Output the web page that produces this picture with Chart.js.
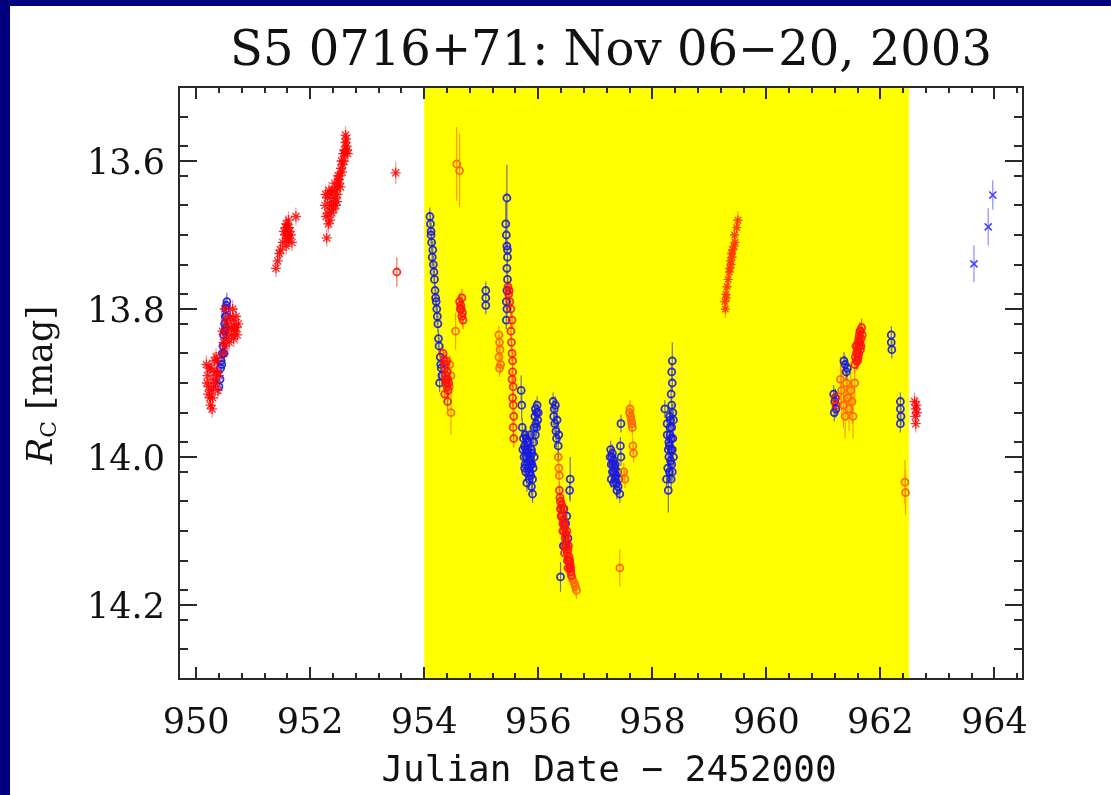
<!DOCTYPE html>
<html>
<head>
<meta charset="utf-8">
<script src="https://cdn.jsdelivr.net/npm/chart.js@4.4.1/dist/chart.umd.min.js"></script>
<style>
  html, body { margin: 0; padding: 0; background: #fff; }
  canvas { display: block; }
</style>
</head>
<body>
<canvas id="lc" width="1111" height="795"></canvas>
<script>
// 観測データ [JD-2452000, Rc, 誤差(省略時は既定値)]
const titleText = "S5 0716+71: Nov 06\u221220, 2003";
const xTitle = "Julian Date \u2212 2452000";
const xMajorTicks = [950, 952, 954, 956, 958, 960, 962, 964];
const yMajorTicks = [13.6, 13.8, 14.0, 14.2];
const bandRange = [954, 962.5];

const blueCircles = [
  [950.40,13.905],[950.42,13.895],[950.43,13.88],[950.44,13.87],[950.46,13.86],[950.47,13.85],
  [950.48,13.835],[950.50,13.82],[950.51,13.81],[950.52,13.80],[950.53,13.795],[950.54,13.79],
  [950.52,13.825],[950.49,13.86],[950.45,13.875],[950.50,13.83],[950.53,13.81],
  [954.10,13.675],[954.11,13.685],[954.12,13.695],[954.13,13.71],[954.14,13.73],[954.16,13.74],
  [954.18,13.76],[954.19,13.775],[954.22,13.80],[954.24,13.82],[954.25,13.84],[954.26,13.85],
  [954.28,13.865],[954.30,13.88],[954.31,13.89],[954.27,13.90],[954.15,13.72],[954.21,13.79],
  [954.12,13.70],[954.17,13.75],[954.20,13.785],[954.23,13.81],[954.29,13.875],
  [955.08,13.775],[955.08,13.785],[955.08,13.795],
  [955.45,13.65,0.045],[955.43,13.685,0.03],[955.44,13.70],[955.45,13.715],[955.46,13.73],[955.45,13.745],
  [955.46,13.76],[955.45,13.775],[955.44,13.79],[955.45,13.80],[955.44,13.815],[955.46,13.72],
  [955.70,13.91,0.02],[955.71,13.93,0.02],
  [955.72,13.96],[955.74,13.975],[955.76,13.985],[955.77,13.97],[955.78,13.99],[955.79,14.00],
  [955.80,13.98],[955.81,14.01],[955.82,13.995],[955.83,14.015],[955.84,14.005],[955.85,14.02],
  [955.86,14.00],[955.87,14.025],[955.88,13.99],[955.89,14.01],[955.90,14.03],[955.90,14.05],
  [955.92,13.98],[955.93,13.96],[955.94,13.945],[955.95,13.935],[955.96,13.955],[955.97,13.94],
  [955.78,14.02],[955.80,14.035],
  [955.73,13.99],[955.75,14.00],[955.77,14.01],[955.79,13.975],[955.81,13.99],[955.83,13.98],
  [955.85,14.005],[955.87,14.01],[955.89,13.995],[955.91,14.015],[955.93,14.00],[955.95,13.97],
  [955.97,13.96],[955.99,13.95],[956.00,13.94],[955.98,13.93],[955.76,14.015],[955.84,14.03],
  [955.86,13.97],[955.88,14.04],
  [956.26,13.925],[956.28,13.935],[956.27,13.945],[956.29,13.955],[956.30,13.93],[956.31,13.965],
  [956.32,13.975],[956.33,13.95],[956.35,13.985,0.02],[956.36,13.97],
  [956.39,14.162,0.02],[956.56,14.03,0.03],[956.55,14.045],[956.45,14.07],[956.48,14.09],
  [956.52,14.11],[956.44,14.12],[956.50,14.08],
  [957.27,13.99],[957.29,14.00],[957.30,13.995],[957.31,14.01],[957.32,14.005],[957.33,14.02],
  [957.34,14.015],[957.35,14.03],[957.36,14.025],[957.37,14.035],[957.38,14.045],[957.40,14.04],
  [957.43,14.05],[957.45,13.955],[957.44,13.985],[957.45,14.00],[957.30,14.02],[957.28,14.01],
  [957.26,14.00],[957.28,14.03],[957.32,14.035],[957.35,14.01],[957.39,14.02],[957.41,14.03],
  [958.35,13.87,0.025],[958.34,13.885],[958.35,13.90],[958.33,13.915],[958.34,13.93],[958.22,13.935],
  [958.30,13.945],[958.32,13.95],[958.34,13.96],[958.31,13.97],[958.33,13.975],[958.30,13.985],
  [958.35,13.99],[958.29,14.00],[958.32,14.005],[958.34,14.01],[958.30,14.02],[958.33,14.03],
  [958.28,14.045,0.03],[958.31,13.96],[958.36,13.94],[958.29,13.98],[958.27,14.015],[958.33,13.99],
  [958.26,13.97],[958.28,13.99],[958.36,13.975],[958.37,14.00],[958.26,13.955],[958.37,13.95],
  [958.25,14.03],[958.35,14.02],
  [961.18,13.915],[961.20,13.925],[961.22,13.935],[961.19,13.94],[961.21,13.92],
  [961.36,13.87],[961.38,13.875],[961.40,13.885],[961.42,13.88],
  [962.19,13.835],[962.19,13.845],[962.20,13.855],
  [962.35,13.925],[962.35,13.935],[962.36,13.945],[962.35,13.955]
];

const redCircles = [
  [953.52,13.75,0.02],
  [954.33,13.86],[954.35,13.87],[954.36,13.88],[954.37,13.875],[954.38,13.89],[954.39,13.895],
  [954.40,13.885],[954.38,13.90],[954.40,13.905],[954.42,13.91],[954.36,13.915],[954.41,13.925],
  [954.37,13.895],[954.39,13.87],[954.41,13.895],[954.43,13.90],
  [954.62,13.79],[954.64,13.795],[954.65,13.80],[954.66,13.81],[954.67,13.805],[954.68,13.815],
  [954.63,13.80],[954.66,13.785],
  [955.47,13.77],[955.48,13.78],[955.49,13.775],[955.50,13.79],[955.52,13.80],[955.54,13.815],
  [955.52,13.83],[955.53,13.845],[955.54,13.86],[955.55,13.87],[955.55,13.885],[955.54,13.895],
  [955.56,13.905],[955.55,13.92],[955.56,13.93],[955.57,13.945],[955.56,13.96],[955.57,13.975],
  [956.37,14.045],[956.38,14.055],[956.39,14.06],[956.40,14.07],[956.41,14.065],[956.42,14.08],
  [956.43,14.09],[956.44,14.085],[956.45,14.10],[956.46,14.095],[956.47,14.11],[956.48,14.105],
  [956.49,14.12],[956.50,14.115],[956.51,14.13],[956.52,14.125],[956.53,14.14],[956.54,14.135],
  [956.55,14.15],[956.56,14.145],[956.57,14.155],[956.58,14.16],[956.40,14.08],[956.44,14.07],
  [956.50,14.10],
  [956.39,14.07],[956.41,14.08],[956.43,14.10],[956.45,14.09],[956.47,14.12],[956.49,14.105],
  [956.51,14.14],[956.53,14.12],[956.55,14.14],[956.57,14.15],[956.46,14.13],[956.52,14.15],
  [961.55,13.875],[961.56,13.865],[961.58,13.86],[961.59,13.85],[961.60,13.855],[961.61,13.845],
  [961.62,13.84],[961.63,13.835],[961.64,13.845],[961.65,13.83],[961.66,13.84],[961.67,13.825],
  [961.62,13.86],[961.65,13.855],[961.60,13.87],[961.68,13.835],
  [961.57,13.85],[961.61,13.865],[961.63,13.85],[961.64,13.83],[961.66,13.85],[961.58,13.87],
  [961.21,13.92],[961.22,13.93]
];

const orangeCircles = [
  [954.57,13.604,0.05],[954.62,13.613,0.05],
  [954.55,13.83,0.025],[954.47,13.94,0.03],[954.45,13.875],[954.47,13.89],[954.44,13.905],
  [955.31,13.835],[955.32,13.845],[955.33,13.855],[955.31,13.865],[955.34,13.875],[955.32,13.88],
  [956.35,14.00],[956.36,14.015],[956.37,14.025],
  [956.60,14.165],[956.63,14.17],[956.65,14.175],[956.67,14.18],
  [957.50,14.02],[957.52,14.03],
  [957.60,13.94],[957.62,13.945],[957.63,13.95],[957.64,13.955],[957.65,13.96],[957.66,13.985],
  [957.67,13.995],[957.61,13.935],
  [957.43,14.15,0.025],
  [961.30,13.895,0.03],[961.32,13.91,0.03],[961.35,13.93,0.03],[961.38,13.945,0.03],[961.42,13.92,0.03],
  [961.45,13.935,0.03],[961.48,13.91,0.03],[961.50,13.925,0.03],[961.52,13.945,0.03],[961.55,13.90,0.03],
  [961.40,13.90,0.03],
  [962.43,14.034,0.03],[962.44,14.048,0.03]
];

const redStars = [
  [950.18,13.875],[950.20,13.89],[950.22,13.905],[950.24,13.92],[950.25,13.93],[950.27,13.91],
  [950.28,13.935],[950.30,13.895],[950.26,13.88],[950.32,13.87],[950.34,13.90],[950.36,13.885],
  [950.38,13.91],[950.40,13.89],[950.35,13.865],
  [950.19,13.90],[950.21,13.915],[950.23,13.88],[950.29,13.92],[950.31,13.905],[950.33,13.885],
  [950.37,13.87],
  [950.46,13.83],[950.48,13.845],[950.50,13.80],[950.52,13.815],[950.50,13.85],[950.54,13.84],
  [950.56,13.83],[950.48,13.86],[950.60,13.81],[950.62,13.825],[950.65,13.815],[950.68,13.83],
  [950.70,13.81],[950.72,13.835],[950.66,13.84],[950.58,13.845],[950.64,13.80],
  [950.62,13.835],[950.67,13.825],[950.70,13.825],[950.74,13.82],[950.55,13.82],
  [951.40,13.745],[951.43,13.735],[951.46,13.725],[951.48,13.72],[951.52,13.71],[951.54,13.695],
  [951.56,13.70],[951.58,13.685],[951.60,13.69],[951.62,13.705],[951.64,13.695],[951.66,13.70],
  [951.68,13.71],[951.58,13.715],[951.62,13.68],[951.75,13.675],
  [951.57,13.69],[951.61,13.70],[951.63,13.69],[951.59,13.705],
  [952.29,13.704],[952.26,13.66],[952.28,13.675],[952.30,13.65],[952.32,13.685],[952.34,13.66],
  [952.36,13.645],[952.38,13.67],[952.40,13.655],[952.42,13.64],[952.44,13.65],[952.46,13.635],
  [952.48,13.645],[952.50,13.625],[952.52,13.62],[952.54,13.61],[952.55,13.60],[952.57,13.605],
  [952.58,13.59],[952.60,13.585],[952.62,13.575],[952.64,13.58],[952.62,13.565],[952.66,13.59],
  [952.35,13.68],[952.45,13.66],[952.53,13.635],
  [952.27,13.645],[952.31,13.67],[952.33,13.64],[952.37,13.66],[952.39,13.64],[952.41,13.665],
  [952.43,13.63],[952.47,13.655],[952.49,13.62],[952.51,13.63],[952.56,13.615],[952.59,13.60],
  [952.61,13.59],[952.63,13.57],[952.65,13.585],
  [953.50,13.616,0.015],
  [962.60,13.925],[962.62,13.935],[962.63,13.93],[962.61,13.945],[962.64,13.94],[962.62,13.955]
];

const orangeCrosses = [
  [959.28,13.80],[959.27,13.79],[959.29,13.78],[959.30,13.785],[959.31,13.77],[959.33,13.76],
  [959.35,13.75],[959.36,13.745],[959.37,13.735],[959.38,13.74],[959.39,13.725],[959.40,13.73],
  [959.41,13.72],[959.43,13.715],[959.44,13.70],[959.48,13.69],[959.50,13.68],[959.45,13.71]
];

const blueCrosses = [
  [963.64,13.739,0.025],[963.89,13.689,0.025],[963.97,13.646,0.02]
];

const DEF_ERR = 0.012;
const toPts = arr => arr.map(p => ({ x: p[0], y: p[1], e: p[2] ?? DEF_ERR }));

// 副目盛り
const xMinorTicks = [];
xMajorTicks.forEach(m => [0.4, 0.8, 1.2, 1.6].forEach(d => {
  const v = Math.round((m + d) * 10) / 10;
  if (v < 964.5) xMinorTicks.push(v);
}));
const yMinorTicks = [];
for (let i = 1; i < 20; i++) yMinorTicks.push(Math.round((13.5 + i * 0.04) * 100) / 100);

// 背景・帯・枠・タイトル
const frame = {
  id: "frame",
  beforeDraw(chart) {
    const { ctx, width, height, chartArea: a, scales: { x } } = chart;
    ctx.save();
    ctx.fillStyle = "#000080";
    ctx.fillRect(0, 0, width, height);
    ctx.fillStyle = "#ffffff";
    ctx.fillRect(10, 6, width - 10, height - 6);
    const x0 = x.getPixelForValue(bandRange[0]);
    const x1 = x.getPixelForValue(bandRange[1]);
    ctx.fillStyle = "#ffff00";
    ctx.fillRect(x0, a.top, x1 - x0, a.bottom - a.top);
    ctx.restore();
  },
  afterDraw(chart) {
    const { ctx, chartArea: a, scales: { x, y } } = chart;
    ctx.save();
    ctx.strokeStyle = "#2a2a2a";
    ctx.lineWidth = 2;
    ctx.beginPath();
    const xt = (vals, len) => vals.forEach(v => {
      const px = Math.round(x.getPixelForValue(v));
      ctx.moveTo(px, a.bottom); ctx.lineTo(px, a.bottom - len);
      ctx.moveTo(px, a.top); ctx.lineTo(px, a.top + len);
    });
    const yt = (vals, len) => vals.forEach(v => {
      const py = Math.round(y.getPixelForValue(v));
      ctx.moveTo(a.left, py); ctx.lineTo(a.left + len, py);
      ctx.moveTo(a.right, py); ctx.lineTo(a.right - len, py);
    });
    xt(xMajorTicks, 12);
    xt(xMinorTicks, 6);
    yt(yMajorTicks, 18);
    yt(yMinorTicks, 9);
    ctx.stroke();
    ctx.strokeRect(a.left, a.top, a.right - a.left, a.bottom - a.top);

    ctx.fillStyle = "#111";
    ctx.textAlign = "center";
    ctx.textBaseline = "alphabetic";
    ctx.font = '48px "DejaVu Serif"';
    ctx.fillText(titleText, 611, 65);
    ctx.font = '36px "DejaVu Sans Mono"';
    ctx.fillText(xTitle, 609, 781);

    // 縦軸タイトル R_C [mag]
    ctx.translate(52, 385);
    ctx.rotate(-Math.PI / 2);
    ctx.textAlign = "left";
    const fR = 'italic 35px "DejaVu Serif"', fC = '22px "DejaVu Serif"', fM = '35px "DejaVu Serif"';
    ctx.font = fR; const wR = ctx.measureText("R").width;
    ctx.font = fC; const wC = ctx.measureText("C").width;
    ctx.font = fM; const wM = ctx.measureText(" [mag]").width;
    let cx = -(wR + wC + wM) / 2;
    ctx.font = fR; ctx.fillText("R", cx, 0); cx += wR;
    ctx.font = fC; ctx.fillText("C", cx, 4); cx += wC;
    ctx.font = fM; ctx.fillText(" [mag]", cx, 0);
    ctx.restore();
  }
};

// 誤差棒
const errorBars = {
  id: "errorBars",
  beforeDatasetsDraw(chart) {
    const { ctx, chartArea: a, scales: { x, y } } = chart;
    ctx.save();
    ctx.beginPath();
    ctx.rect(a.left, a.top, a.right - a.left, a.bottom - a.top);
    ctx.clip();
    ctx.lineWidth = 1.2;
    chart.data.datasets.forEach(ds => {
      ctx.strokeStyle = ds.errColor;
      ctx.beginPath();
      ds.data.forEach(p => {
        const px = x.getPixelForValue(p.x);
        ctx.moveTo(px, y.getPixelForValue(p.y - p.e));
        ctx.lineTo(px, y.getPixelForValue(p.y + p.e));
      });
      ctx.stroke();
    });
    ctx.restore();
  }
};

const tickFont = { family: "DejaVu Serif", size: 35 };

new Chart(document.getElementById("lc"), {
  type: "scatter",
  data: {
    datasets: [
      { data: toPts(redCircles), pointStyle: "circle", pointRadius: 3.5, borderWidth: 1.8,
        borderColor: "rgba(255,20,10,0.9)", backgroundColor: "rgba(0,0,0,0)", errColor: "rgba(255,60,0,0.75)" },
      { data: toPts(orangeCircles), pointStyle: "circle", pointRadius: 3.5, borderWidth: 1.8,
        borderColor: "rgba(255,100,0,0.95)", backgroundColor: "rgba(0,0,0,0)", errColor: "rgba(255,130,0,0.8)" },
      { data: toPts(redStars), pointStyle: "star", pointRadius: 5, borderWidth: 1.3,
        borderColor: "rgba(255,0,0,0.85)", backgroundColor: "rgba(0,0,0,0)", errColor: "rgba(255,70,70,0.6)" },
      { data: toPts(orangeCrosses), pointStyle: "star", pointRadius: 4.5, borderWidth: 1.4,
        borderColor: "rgba(255,60,0,0.95)", backgroundColor: "rgba(0,0,0,0)", errColor: "rgba(255,110,0,0.7)" },
      { data: toPts(blueCircles), pointStyle: "circle", pointRadius: 3.5, borderWidth: 1.8,
        borderColor: "rgba(25,25,225,0.9)", backgroundColor: "rgba(0,0,0,0)", errColor: "rgba(70,70,170,0.75)" },
      { data: toPts(blueCrosses), pointStyle: "crossRot", pointRadius: 5, borderWidth: 1.6,
        borderColor: "rgba(60,60,255,0.95)", backgroundColor: "rgba(0,0,0,0)", errColor: "rgba(110,110,255,0.8)" }
    ]
  },
  options: {
    responsive: false,
    animation: false,
    devicePixelRatio: 1,
    layout: { padding: { top: 87, right: 88, left: 0, bottom: 0 } },
    plugins: { legend: { display: false }, title: { display: false }, tooltip: { enabled: false } },
    scales: {
      x: {
        type: "linear", min: 949.7, max: 964.5,
        grid: { display: false, drawTicks: false },
        border: { display: false },
        afterBuildTicks: s => { s.ticks = xMajorTicks.map(v => ({ value: v })); },
        afterFit: s => { s.height = 116; },
        ticks: { padding: 24, autoSkip: false, maxRotation: 0, color: "#111", font: tickFont,
                 callback: v => String(v) }
      },
      y: {
        type: "linear", reverse: true, min: 13.5, max: 14.3,
        grid: { display: false, drawTicks: false },
        border: { display: false },
        afterBuildTicks: s => { s.ticks = yMajorTicks.map(v => ({ value: v })); },
        afterFit: s => { s.width = 179; },
        ticks: { padding: 14, labelOffset: 4, autoSkip: false, color: "#111", font: tickFont,
                 callback: v => v.toFixed(1) }
      }
    }
  },
  plugins: [frame, errorBars]
});
</script>
</body>
</html>
